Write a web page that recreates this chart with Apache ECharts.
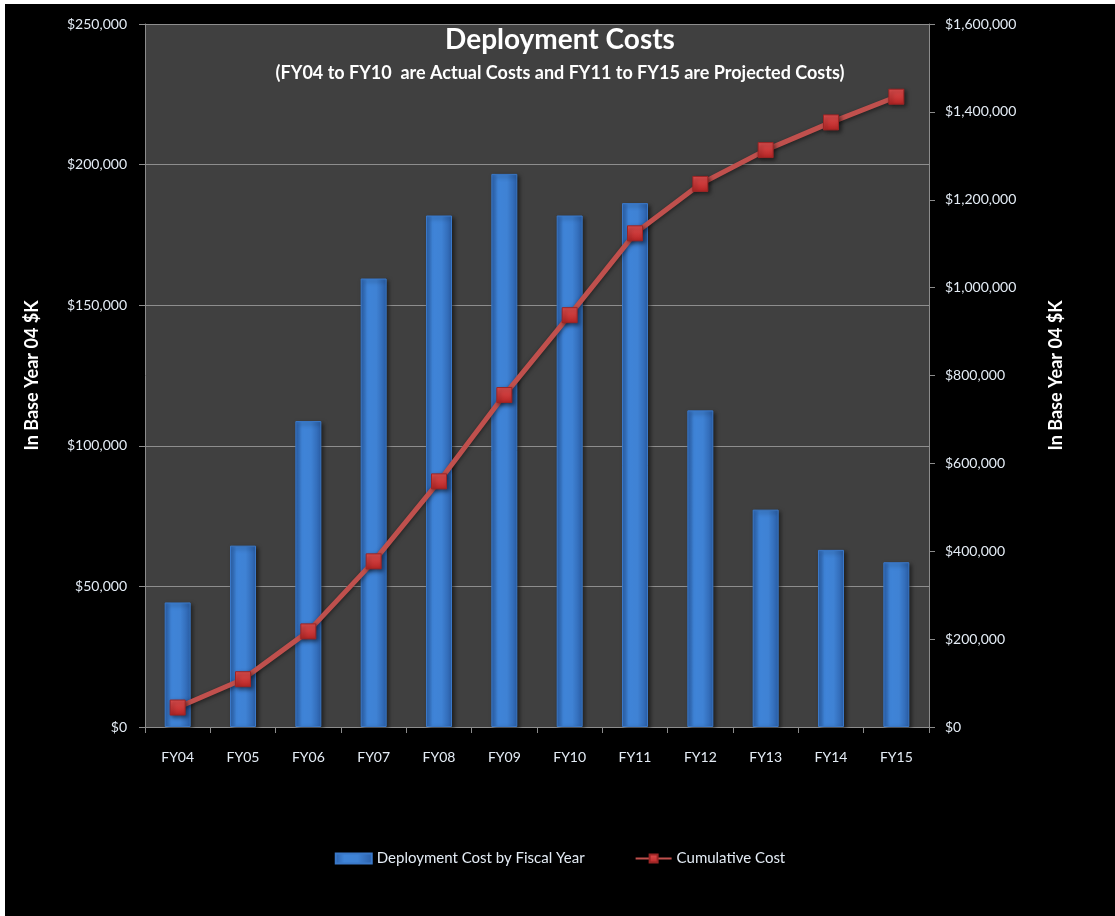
<!DOCTYPE html>
<html>
<head>
<meta charset="utf-8">
<title>Deployment Costs</title>
<script src="https://cdn.jsdelivr.net/npm/echarts@6/dist/echarts.min.js"></script>
<style>
  html, body { margin: 0; padding: 0; background: #fff; }
  #chart {
    position: absolute;
    left: 5px;
    top: 4px;
    width: 1110px;
    height: 912px;
    background: #000;
  }
</style>
</head>
<body>
<div id="chart"></div>
<script>
// fiscal years on the x axis
const years = ['FY04', 'FY05', 'FY06', 'FY07', 'FY08', 'FY09', 'FY10', 'FY11', 'FY12', 'FY13', 'FY14', 'FY15']
// yearly deployment cost (left axis)
const yearlyCost = [44300, 64500, 108800, 159500, 181900, 196700, 181900, 186300, 112600, 77300, 63000, 58600]
// cumulative cost (right axis)
const cumulativeCost = [44300, 108800, 217600, 377000, 559000, 755500, 937300, 1123600, 1236000, 1313000, 1376000, 1434500]

const leftTicks = { min: 0, max: 250000, step: 50000 }
const rightTicks = { min: 0, max: 1600000, step: 200000 }

const txt = '#e4ecf5'
const font = 'Lato, "Open Sans", sans-serif'

function money(v) {
  return '$' + Number(v).toLocaleString('en-US')
}

const chart = echarts.init(document.getElementById('chart'))

const option = {
  backgroundColor: '#000',
  textStyle: { fontFamily: font },
  title: {
    text: 'Deployment Costs',
    subtext: '(FY04 to FY10  are Actual Costs and FY11 to FY15 are Projected Costs)',
    left: 'center',
    top: 17,
    itemGap: 10,
    textStyle: { color: '#fff', fontSize: 28, fontWeight: 'bold', fontFamily: font },
    subtextStyle: { color: '#fff', fontSize: 18, fontWeight: 'bold', fontFamily: font }
  },
  legend: {
    bottom: 45,
    left: 'center',
    itemGap: 50,
    itemWidth: 36,
    itemHeight: 10,
    textStyle: { color: txt, fontSize: 15, fontFamily: font },
    data: [
      { name: 'Deployment Cost by Fiscal Year', icon: 'rect' },
      { name: 'Cumulative Cost' }
    ]
  },
  grid: {
    left: 140,
    top: 20,
    width: 784,
    height: 703,
    show: true,
    backgroundColor: '#404040',
    borderWidth: 0
  },
  xAxis: {
    type: 'category',
    data: years,
    axisLine: { lineStyle: { color: '#8c8c8c', width: 1 } },
    axisTick: { show: true, length: 6, lineStyle: { color: '#8c8c8c' } },
    axisLabel: { color: txt, fontSize: 14, margin: 23 }
  },
  yAxis: [
    {
      type: 'value',
      min: leftTicks.min,
      max: leftTicks.max,
      interval: leftTicks.step,
      name: 'In Base Year 04 $K',
      nameLocation: 'middle',
      nameRotate: 90,
      nameGap: 104,
      nameTextStyle: { color: '#fff', fontSize: 18, fontWeight: 'bold' },
      axisLine: { show: true, lineStyle: { color: '#8c8c8c' } },
      axisTick: { show: true, length: 6, lineStyle: { color: '#8c8c8c' } },
      axisLabel: { color: txt, fontSize: 14, margin: 18, formatter: money },
      splitLine: { lineStyle: { color: '#8e8e8e', width: 1 } }
    },
    {
      type: 'value',
      min: rightTicks.min,
      max: rightTicks.max,
      interval: rightTicks.step,
      position: 'right',
      name: 'In Base Year 04 $K',
      nameLocation: 'middle',
      nameRotate: 90,
      nameGap: 118,
      nameTextStyle: { color: '#fff', fontSize: 18, fontWeight: 'bold' },
      axisLine: { show: true, lineStyle: { color: '#8c8c8c' } },
      axisTick: { show: true, length: 6, lineStyle: { color: '#8c8c8c' } },
      axisLabel: { color: txt, fontSize: 14, margin: 16, formatter: money },
      splitLine: { show: false }
    }
  ],
  series: [
    {
      name: 'Deployment Cost by Fiscal Year',
      type: 'bar',
      yAxisIndex: 0,
      barWidth: 26,
      data: yearlyCost,
      itemStyle: {
        color: {
          type: 'linear', x: 0, y: 0, x2: 1, y2: 0,
          colorStops: [
            { offset: 0, color: '#2c62ad' },
            { offset: 0.25, color: '#3f84d8' },
            { offset: 0.6, color: '#3f82d4' },
            { offset: 1, color: '#2b5fa8' }
          ]
        },
        borderColor: '#3a78c8',
        borderWidth: 1,
        shadowColor: 'rgba(0,0,0,0.5)',
        shadowBlur: 4,
        shadowOffsetX: 2,
        shadowOffsetY: 2
      }
    },
    {
      name: 'Cumulative Cost',
      type: 'line',
      yAxisIndex: 1,
      data: cumulativeCost,
      symbol: 'rect',
      symbolSize: 15,
      lineStyle: {
        color: '#c0504d',
        width: 5,
        shadowColor: 'rgba(0,0,0,0.5)',
        shadowBlur: 4,
        shadowOffsetY: 2
      },
      itemStyle: {
        color: {
          type: 'linear', x: 0, y: 0, x2: 0, y2: 1,
          colorStops: [
            { offset: 0, color: '#e25050' },
            { offset: 1, color: '#b52424' }
          ]
        },
        borderColor: '#9c2525',
        borderWidth: 1,
        shadowColor: 'rgba(0,0,0,0.5)',
        shadowBlur: 4,
        shadowOffsetX: 2,
        shadowOffsetY: 2
      },
      z: 5
    }
  ]
}

chart.setOption(option)
</script>
</body>
</html>
